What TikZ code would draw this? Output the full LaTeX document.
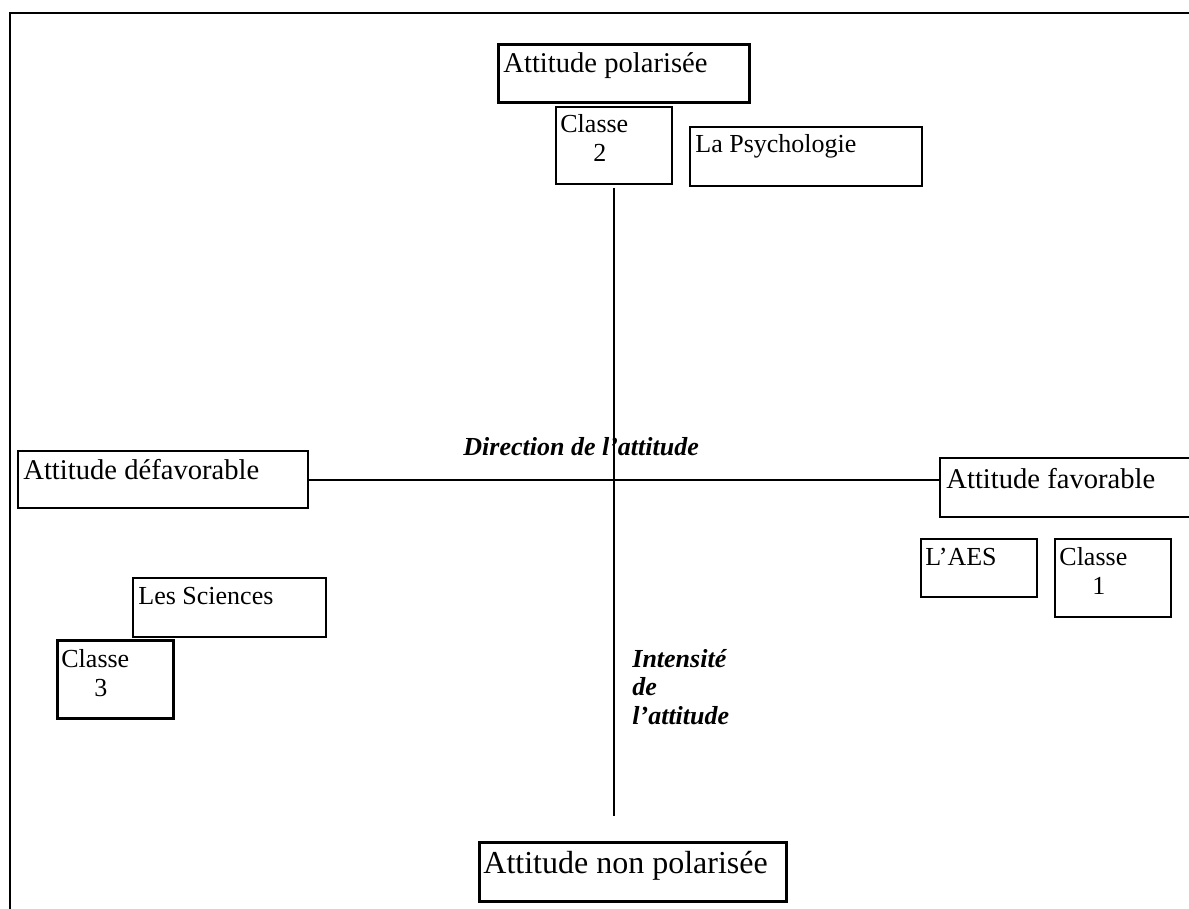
\documentclass[tikz,border=0pt]{standalone}
\usepackage{fontspec}
\setmainfont{Liberation Serif}
\usetikzlibrary{fit,calc}
\tikzset{box/.style={draw,line width=1pt,inner sep=0pt},
heavybox/.style={box,line width=1.5pt},
lbl/.style={anchor=base west,inner sep=0pt,align=left,font=\fontsize{13}{14.5}\selectfont},
biglbl/.style={lbl,font=\fontsize{14.3}{16}\selectfont},
axislbl/.style={lbl,font=\fontsize{13}{14.25}\selectfont\bfseries\itshape}}

\begin{document}
\begin{tikzpicture}[x=0.5pt,y=-0.5pt]
\useasboundingbox (0,0) rectangle (1189,909);
% frame
\draw[line width=1pt] (1192,13) -- (10,13) -- (10,912);

% boxes (multi-line labels sit on their last baseline)
\node[heavybox,fit={(498,45) (749,103)}] (pol) {};
\node[biglbl] (polt) at (503,73) {Attitude polarisée};
\node[box,fit={(556,107) (672,184)}] (c2) {};
\node[lbl] (c2t) at (560,162) {Classe\\\hspace*{16.5pt}2};
\node[box,fit={(690,127) (922,186)}] (psy) {};
\node[lbl] (psyt) at (695,153) {La Psychologie};

\node[box,fit={(18,451) (308,508)}] (defav) {};
\node[biglbl] (defavt) at (23,479) {Attitude défavorable};
\node[box,fit={(940,458) (1196,517)}] (fav) {};
\node[biglbl] (favt) at (946,488) {Attitude favorable};

\node[box,fit={(921,539) (1037,597)}] (aes) {};
\node[lbl] (aest) at (925,565) {L’AES};
\node[box,fit={(1055,539) (1171,617)}] (c1) {};
\node[lbl] (c1t) at (1059,594) {Classe\\\hspace*{16.5pt}1};

\node[box,fit={(133,578) (326,637)}] (sci) {};
\node[lbl] (scit) at (138,604) {Les Sciences};
\node[heavybox,fit={(57,640) (173,718)}] (c3) {};
\node[lbl] (c3t) at (61,696) {Classe\\\hspace*{16.5pt}3};

\node[heavybox,fit={(479,842) (786,901)}] (nonpol) {};
\node[lbl,font=\fontsize{16}{18}\selectfont] (nonpolt) at (483,873) {Attitude non polarisée};

% axes
\coordinate (vtop) at (614,188);
\coordinate (vbot) at (614,816);
\draw[line width=1pt] (vtop) -- (vbot);
\draw[line width=1pt] (defav.east) -- (defav.east -| fav.west);
\node[axislbl] (dirt) at (463,455) {Direction de l’attitude};
\node[axislbl] (intt) at (632,724) {Intensité\\de\\l’attitude};
\end{tikzpicture}
\end{document}
